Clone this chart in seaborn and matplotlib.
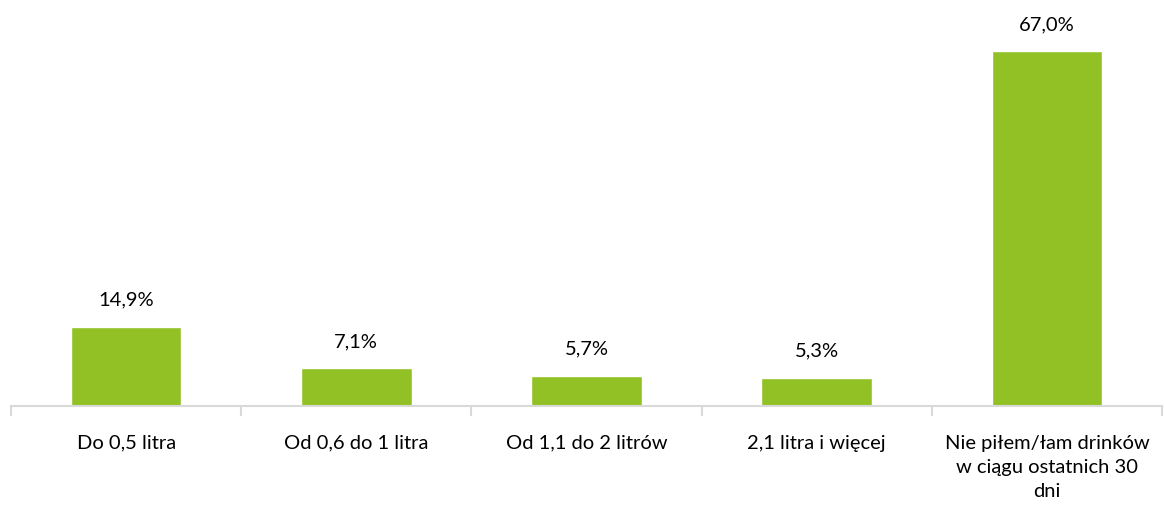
import matplotlib
matplotlib.use("Agg")
import matplotlib.pyplot as plt
import seaborn as sns
import pandas as pd
from matplotlib.ticker import FixedLocator

categories = ["Do 0,5 litra", "Od 0,6 do 1 litra", "Od 1,1 do 2 litrów",
              "2,1 litra i więcej", "Nie piłem/łam drinków\nw ciągu ostatnich 30\ndni"]
values = [14.9, 7.1, 5.7, 5.3, 67.0]
value_labels = ["14,9%", "7,1%", "5,7%", "5,3%", "67,0%"]

sns.set_theme(style="white")
plt.rcParams['font.family'] = ['Lato', 'DejaVu Sans']

df = pd.DataFrame({"cat": categories, "val": values})

fig = plt.figure(figsize=(11.64, 5.06), dpi=100)
ax = fig.add_axes([11/1164, 1 - 407/506, (1162 - 11)/1164, 397/506])
sns.barplot(data=df, x="cat", y="val", color="#92C125", saturation=1, width=0.48, ax=ax)

ax.set_ylim(0, 75)
ax.set_xlim(-0.5, len(categories) - 0.5)
ax.set_xlabel("")
ax.set_ylabel("")
ax.set_yticks([])
for s in ["top", "right", "left"]:
    ax.spines[s].set_visible(False)
ax.spines["bottom"].set_color("#D9D9D9")
ax.spines["bottom"].set_linewidth(1.5)

ax.tick_params(axis="x", which="major", length=0, pad=20, labelsize=14.5, labelcolor="black")
ax.xaxis.set_minor_locator(FixedLocator([i - 0.5 for i in range(len(categories) + 1)]))
ax.tick_params(axis="x", which="minor", length=7, width=1.5, color="#D9D9D9", bottom=True)
for lbl in ax.get_xticklabels():
    lbl.set_multialignment("center")
    lbl.set_verticalalignment("top")
    lbl.set_linespacing(1.52)

for i, (v, t) in enumerate(zip(values, value_labels)):
    ax.annotate(t, (i, v), xytext=(0, 14), textcoords="offset points",
                ha="center", va="bottom", fontsize=14.5, color="black")

fig.savefig("out.png", dpi=100)
